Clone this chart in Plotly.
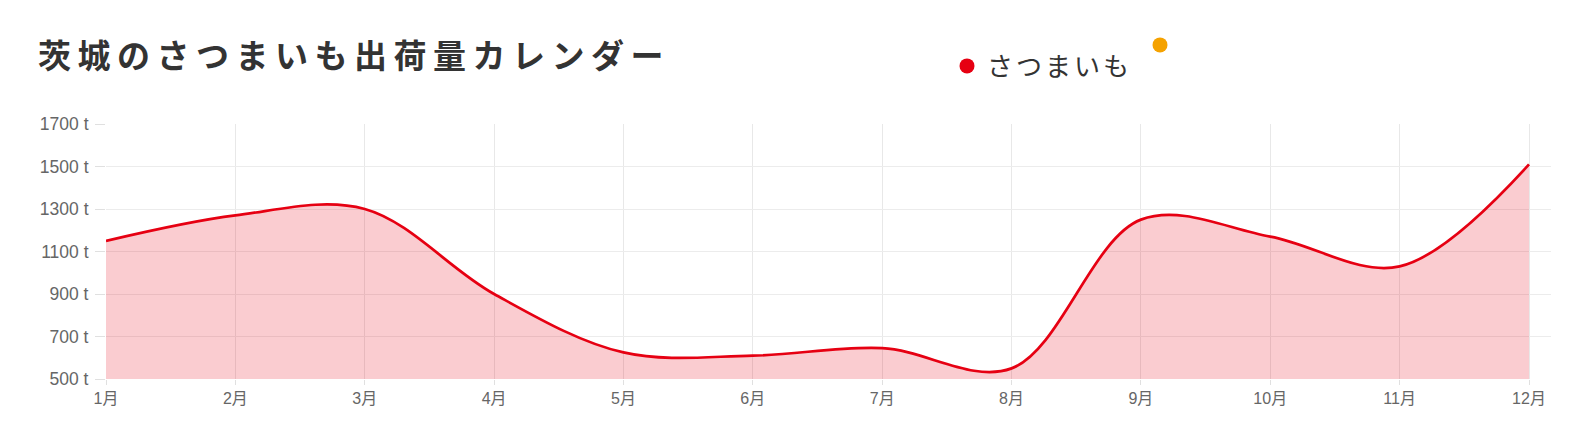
import plotly.graph_objects as go

months = ["1月", "2月", "3月", "4月", "5月", "6月", "7月", "8月", "9月", "10月", "11月", "12月"]
satsumaimo = [1150, 1270, 1300, 900, 625, 610, 645, 550, 1250, 1170, 1030, 1510]
series_name = "さつまいも"
second_name = ""
y_ticks = [500, 700, 900, 1100, 1300, 1500, 1700]
y_unit = "t"
title_text = "茨城のさつまいも出荷量カレンダー"

RED = "#e60012"
ORANGE = "#f5a200"
FONT_BODY = "Liberation Sans, Arial, Noto Sans CJK JP, sans-serif"
FONT_CJK = "Noto Sans CJK JP, sans-serif"

xs = list(range(len(months)))
y_ticktext = [f"{v} {y_unit}" for v in y_ticks]

fig = go.Figure()
fig.add_trace(go.Scatter(
    x=xs, y=satsumaimo, mode="lines",
    line=dict(color=RED, width=2.7, shape="spline", smoothing=1.0),
    fill="tozeroy", fillcolor="rgba(230,0,18,0.2)",
    showlegend=False, hoverinfo="x+y",
))
# legend entries
fig.add_trace(go.Scatter(
    x=[None], y=[None], mode="markers",
    name='<span style="letter-spacing:3px">' + series_name + "</span>",
    marker=dict(color=RED, size=15), legend="legend",
))
fig.add_trace(go.Scatter(
    x=[None], y=[None], mode="markers", name=second_name,
    marker=dict(color=ORANGE, size=15), legend="legend2",
))

fig.update_layout(
    width=1575, height=437,
    margin=dict(l=98, r=32, t=116, b=66, autoexpand=False),
    paper_bgcolor="white", plot_bgcolor="white",
    font=dict(family=FONT_BODY, color="#666", size=14),
    title=dict(
        text='<span style="letter-spacing:6.5px"><b>' + title_text + "</b></span>",
        x=30 / 1575, xanchor="left", xref="container",
        y=1 - 48 / 437, yanchor="middle", yref="container",
        font=dict(family=FONT_CJK, size=33, color="#333"),
    ),
    legend=dict(
        xref="container", yref="container",
        x=939 / 1575, xanchor="left",
        y=1 - 58 / 437, yanchor="middle",
        font=dict(family=FONT_CJK, size=26, color="#333"),
        bgcolor="rgba(0,0,0,0)",
    ),
    legend2=dict(
        xref="container", yref="container",
        x=1132 / 1575, xanchor="left",
        y=1 - 37 / 437, yanchor="middle",
        font=dict(family=FONT_CJK, size=26, color="#333"),
        bgcolor="rgba(0,0,0,0)",
    ),
    xaxis=dict(
        range=[0, 11.17], tickmode="array", tickvals=xs, ticktext=months,
        showgrid=True, gridcolor="#e8e8e8", gridwidth=1,
        ticks="outside", ticklen=5, tickcolor="#e0e0e0",
        showline=False, zeroline=False,
        tickfont=dict(family=FONT_BODY, size=16, color="#666"),
    ),
    yaxis=dict(
        range=[500, 1700], tickmode="array", tickvals=y_ticks, ticktext=y_ticktext,
        showgrid=True, gridcolor="#ececec", gridwidth=1,
        ticks="outside", ticklen=10, tickcolor="#e0e0e0",
        ticklabelstandoff=3,
        showline=False, zeroline=False,
        tickfont=dict(family=FONT_BODY, size=17.5, color="#666"),
    ),
)

fig.write_html("out.html")
